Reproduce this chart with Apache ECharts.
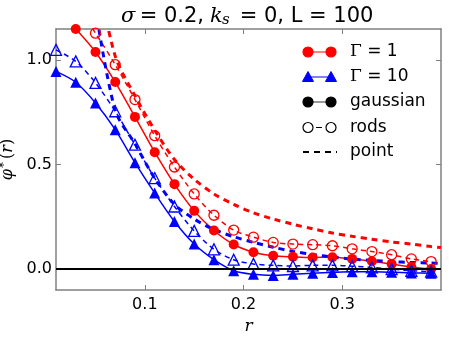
<!DOCTYPE html>
<html>
<head>
<meta charset="utf-8">
<script src="https://cdn.jsdelivr.net/npm/echarts@6/dist/echarts.min.js"></script>
<style>
html, body { margin: 0; padding: 0; background: #fff; }
#main { width: 451px; height: 338px; }
</style>
</head>
<body>
<div id="main"></div>
<script>
// sample radii for the marked curves and for the point model
var r = [0.01, 0.03, 0.05, 0.07, 0.09, 0.11, 0.13, 0.15, 0.17, 0.19,
         0.21, 0.23, 0.25, 0.27, 0.29, 0.31, 0.33, 0.35, 0.37, 0.39];
var rPoint = [0.05, 0.07, 0.09, 0.11, 0.13, 0.15, 0.17, 0.19, 0.21, 0.23,
              0.25, 0.27, 0.29, 0.31, 0.33, 0.35, 0.37, 0.39, 0.40];

// Gamma = 1
var gauss1 = [1.25, 1.15, 1.04, 0.896, 0.729, 0.56, 0.407, 0.279, 0.185, 0.118,
              0.081, 0.064, 0.059, 0.056, 0.057, 0.049, 0.038, 0.024, 0.010, 0.0];
var rods1 = [1.45, 1.27, 1.13, 0.979, 0.812, 0.639, 0.489, 0.36, 0.258, 0.187,
             0.153, 0.128, 0.12, 0.117, 0.112, 0.097, 0.084, 0.069, 0.049, 0.036];
var point1 = [1.45, 1.02, 0.83, 0.665, 0.525, 0.43, 0.36, 0.31, 0.27, 0.24,
              0.215, 0.193, 0.173, 0.157, 0.143, 0.13, 0.12, 0.108, 0.103];

// Gamma = 10
var gauss10 = [0.947, 0.895, 0.796, 0.668, 0.51, 0.364, 0.228, 0.12, 0.045, -0.008,
               -0.025, -0.03, -0.025, -0.02, -0.016, -0.013, -0.013, -0.015, -0.018, -0.02];
var rods10 = [1.05, 0.995, 0.892, 0.756, 0.596, 0.436, 0.30, 0.183, 0.095, 0.045,
              0.025, 0.018, 0.015, 0.018, 0.018, 0.014, 0.008, 0.0, -0.008, -0.012];
var point10 = [1.25, 0.76, 0.60, 0.435, 0.31, 0.24, 0.19, 0.155, 0.128, 0.105,
               0.085, 0.07, 0.058, 0.048, 0.042, 0.036, 0.032, 0.029, 0.028];

var xTicks = [0.1, 0.2, 0.3];
var yTicks = [0.0, 0.5, 1.0];

var RED = '#ff0000', BLUE = '#0000ff', SPINE = '#808080';

function pairs(xs, ys) {
    return xs.map(function (x, i) { return [x, ys[i]]; });
}

var myChart = echarts.init(document.getElementById('main'));

function axisBase(extra) {
    var a = {
        type: 'value',
        axisLine: { show: true, onZero: false, lineStyle: { color: SPINE, width: 1.5 } },
        splitLine: { show: false },
        axisTick: { show: true, inside: true, length: 5, lineStyle: { color: SPINE, width: 1 } },
        axisLabel: { show: false }
    };
    for (var k in extra) a[k] = extra[k];
    return a;
}

// hand-made legend (matplotlib style: two markers joined by the line)
var legendY = [52, 77, 102, 127.5, 152];
var lx1 = 308, lx2 = 331, ltext = 350;
var legendEls = [];
function dot(cx, cy, fill, stroke) {
    return { type: 'circle', shape: { cx: cx, cy: cy, r: 5 },
             style: { fill: fill, stroke: stroke, lineWidth: 1.2 }, z: 100 };
}
function tri(cx, cy, color) {
    return { type: 'polygon', shape: { points: [[cx, cy - 5.5], [cx - 5.5, cy + 4.5], [cx + 5.5, cy + 4.5]] },
             style: { fill: color, stroke: color, lineWidth: 1 }, z: 100 };
}
function seg(x1, x2, y, color, w, dash) {
    return { type: 'line', shape: { x1: x1, y1: y, x2: x2, y2: y },
             style: { stroke: color, lineWidth: w, lineDash: dash || null }, z: 99 };
}
function label(y, text, rich) {
    return { type: 'text', x: ltext, y: y, z: 100,
             style: { text: text, rich: rich || {}, fill: '#000', font: '17px "DejaVu Sans"',
                      verticalAlign: 'middle', align: 'left' } };
}
var gRich = { g: { fontFamily: 'DejaVu Serif', fontSize: 17, color: '#000' } };
legendEls.push(seg(lx1, lx2, legendY[0], RED, 1), dot(lx1, legendY[0], RED, RED), dot(lx2, legendY[0], RED, RED),
               label(legendY[0], '{g|Γ} = 1', gRich));
legendEls.push(seg(lx1, lx2, legendY[1], BLUE, 1), tri(lx1, legendY[1], BLUE), tri(lx2, legendY[1], BLUE),
               label(legendY[1], '{g|Γ} = 10', gRich));
legendEls.push(seg(lx1, lx2, legendY[2], '#555', 1.2), dot(lx1, legendY[2], '#000', '#000'), dot(lx2, legendY[2], '#000', '#000'),
               label(legendY[2], 'gaussian'));
legendEls.push(seg(316, 322, legendY[3], '#000', 1), dot(lx1, legendY[3], 'none', '#000'), dot(lx2, legendY[3], 'none', '#000'),
               label(legendY[3], 'rods'));
legendEls.push(seg(303, 337, legendY[4], '#000', 2, [6, 5]), label(legendY[4], 'point'));

// title, built from pieces so the subscript can sit lower
var tFont = '21px "DejaVu Sans"', tItal = 'italic 21px "DejaVu Serif"';
var titleEls = [
    { type: 'text', x: 121, y: 6, z: 100, style: { text: 'σ', font: tItal, fill: '#000' } },
    { type: 'text', x: 133, y: 6, z: 100, style: { text: ' = 0.2,', font: tFont, fill: '#000' } },
    { type: 'text', x: 210, y: 6, z: 100, style: { text: 'k', font: tItal, fill: '#000' } },
    { type: 'text', x: 222, y: 13, z: 100, style: { text: 's', font: 'italic 15px "DejaVu Serif"', fill: '#000' } },
    { type: 'text', x: 233, y: 6, z: 100, style: { text: ' = 0, L = 100', font: tFont, fill: '#000' } }
];

var lineCommon = { type: 'line', smooth: 0.3, clip: true, animation: false, silent: true };
function mk(o) { for (var k in lineCommon) if (!(k in o)) o[k] = lineCommon[k]; return o; }

myChart.setOption({
    animation: false,
    backgroundColor: '#fff',
    grid: { left: 56, right: 10, top: 29, bottom: 48, containLabel: false, outerBoundsMode: 'none' },
    xAxis: [
        axisBase({
            min: 0.01, max: 0.4, position: 'bottom',
            name: '{i|r}', nameLocation: 'middle', nameGap: 26,
            nameTextStyle: { rich: { i: { fontFamily: 'DejaVu Serif', fontStyle: 'italic', fontSize: 17, color: '#000' } } },
            axisTick: { show: true, inside: true, length: 5, customValues: xTicks, lineStyle: { color: SPINE } },
            axisLabel: { show: true, customValues: xTicks, margin: 7, color: '#000',
                         fontFamily: 'DejaVu Sans', fontSize: 16,
                         formatter: function (v) { return v.toFixed(1); } }
        }),
        axisBase({
            min: 0.01, max: 0.4, position: 'top',
            axisTick: { show: true, inside: true, length: 5, customValues: xTicks, lineStyle: { color: SPINE } }
        })
    ],
    yAxis: [
        axisBase({
            min: -0.1, max: 1.15, position: 'left',
            name: '{i|φ}{sup|*}{n|(}{i|r}{n|)}', nameLocation: 'middle', nameGap: 34, nameRotate: 90,
            nameTextStyle: { rich: {
                i: { fontFamily: 'DejaVu Serif', fontStyle: 'italic', fontSize: 16, color: '#000' },
                sup: { fontFamily: 'DejaVu Serif', fontSize: 12, color: '#000', padding: [0, 3, 6, 1] },
                n: { fontFamily: 'DejaVu Serif', fontSize: 16, color: '#000' }
            } },
            axisTick: { show: true, inside: true, length: 5, customValues: yTicks, lineStyle: { color: SPINE } },
            axisLabel: { show: true, customValues: yTicks, margin: 4, color: '#000',
                         fontFamily: 'DejaVu Sans', fontSize: 16,
                         formatter: function (v) { return v.toFixed(1); } }
        }),
        axisBase({
            min: -0.1, max: 1.15, position: 'right',
            axisTick: { show: true, inside: true, length: 5, customValues: yTicks, lineStyle: { color: SPINE } }
        })
    ],
    graphic: legendEls.concat(titleEls),
    series: [
        mk({
            name: 'gauss1', data: pairs(r, gauss1), symbol: 'circle', symbolSize: 10,
            itemStyle: { color: RED }, lineStyle: { color: RED, width: 1.5 },
            markLine: {
                silent: true, symbol: ['none', 'none'], label: { show: false },
                lineStyle: { color: '#000', width: 1.8, type: 'solid' },
                data: [{ yAxis: 0 }]
            }
        }),
        mk({
            name: 'rods1', data: pairs(r, rods1), symbol: 'circle', symbolSize: 10,
            itemStyle: { color: 'rgba(255,255,255,0)', borderColor: RED, borderWidth: 1.3 },
            lineStyle: { color: RED, width: 1.5, type: [5, 4] }
        }),
        mk({
            name: 'point1', data: pairs(rPoint, point1), symbol: 'none',
            lineStyle: { color: RED, width: 3, type: [6, 5] }
        }),
        mk({
            name: 'gauss10', data: pairs(r, gauss10), symbol: 'triangle', symbolSize: 11,
            itemStyle: { color: BLUE }, lineStyle: { color: BLUE, width: 1.5 }
        }),
        mk({
            name: 'rods10', data: pairs(r, rods10), symbol: 'triangle', symbolSize: 11,
            itemStyle: { color: 'rgba(255,255,255,0)', borderColor: BLUE, borderWidth: 1.3 },
            lineStyle: { color: BLUE, width: 1.5, type: [5, 4] }
        }),
        mk({
            name: 'point10', data: pairs(rPoint, point10), symbol: 'none',
            lineStyle: { color: BLUE, width: 3, type: [6, 5] }
        })
    ]
});
</script>
</body>
</html>
